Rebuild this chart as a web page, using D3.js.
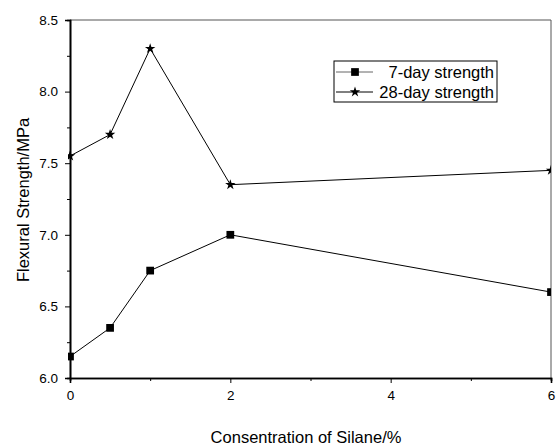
<!DOCTYPE html>
<html><head><meta charset="utf-8">
<script src="https://cdn.jsdelivr.net/npm/d3@7"></script>
<style>body{margin:0;background:#fff}svg{display:block}text{font-family:"Liberation Sans",Arial,sans-serif;fill:#000}</style>
</head><body>
<svg id="c" width="557" height="446"></svg>
<script>
const concentration = [0, 0.5, 1, 2, 6];
const strength7 = [6.15, 6.35, 6.75, 7.0, 6.6];
const strength28 = [7.55, 7.7, 8.3, 7.35, 7.45];
const seriesNames = ["7-day strength", "28-day strength"];
const xTicks = [0, 2, 4, 6];
const yTicks = [6.0, 6.5, 7.0, 7.5, 8.0, 8.5];

const svg = d3.select("#c");
const L = 70, R = 551, T = 20, B = 378;
const x = d3.scaleLinear().domain([0, 6]).range([L, R]);
const y = d3.scaleLinear().domain([6.0, 8.5]).range([B, T]);

svg.append("defs").append("clipPath").attr("id", "clip")
  .append("rect").attr("x", L - 2).attr("y", T - 6).attr("width", R - L + 2).attr("height", B - T + 12);

// frame top/right
svg.append("line").attr("x1", L).attr("x2", R).attr("y1", T).attr("y2", T).attr("stroke", "#555").attr("stroke-width", 1);
svg.append("line").attr("x1", R).attr("x2", R).attr("y1", T).attr("y2", B).attr("stroke", "#555").attr("stroke-width", 1);

// axes
const xAxis = svg.append("g").attr("transform", `translate(0,${B})`)
  .call(d3.axisBottom(x).tickValues(xTicks).tickFormat(d3.format("d")).tickSize(5).tickPadding(7));
const xMinor = svg.append("g").attr("transform", `translate(0,${B})`)
  .call(d3.axisBottom(x).tickValues([1, 3, 5]).tickFormat("").tickSize(3));
const yAxis = svg.append("g").attr("transform", `translate(${L},0)`)
  .call(d3.axisLeft(y).tickValues(yTicks).tickFormat(d3.format(".1f")).tickSize(5).tickPadding(7));
const yMinor = svg.append("g").attr("transform", `translate(${L},0)`)
  .call(d3.axisLeft(y).tickValues([6.25, 6.75, 7.25, 7.75, 8.25]).tickFormat("").tickSize(3));
[xAxis, xMinor, yAxis, yMinor].forEach(g => {
  g.select(".domain").attr("stroke", "#000").attr("stroke-width", 1.6);
  g.selectAll(".tick line").attr("stroke", "#000").attr("stroke-width", 1);
  g.selectAll("text").attr("font-size", 13.5).attr("font-family", "Liberation Sans, Arial, sans-serif");
});

const plot = svg.append("g").attr("clip-path", "url(#clip)");
const line = d3.line().x(d => x(d[0])).y(d => y(d[1]));
const d7 = concentration.map((c, i) => [c, strength7[i]]);
const d28 = concentration.map((c, i) => [c, strength28[i]]);
[d7, d28].forEach(d => plot.append("path").datum(d).attr("d", line).attr("fill", "none").attr("stroke", "#000").attr("stroke-width", 1));

const sq = d3.symbol().type(d3.symbolSquare).size(60);
const st = d3.symbol().type(d3.symbolStar).size(34);
plot.selectAll(".sq").data(d7).join("path").attr("d", sq)
  .attr("transform", d => `translate(${x(d[0])},${y(d[1])})`).attr("fill", "#000");
plot.selectAll(".st").data(d28).join("path").attr("d", st)
  .attr("transform", d => `translate(${x(d[0])},${y(d[1])})`).attr("fill", "#000");

// legend
const lg = svg.append("g");
lg.append("rect").attr("x", 334).attr("y", 61).attr("width", 163).attr("height", 41)
  .attr("fill", "#fff").attr("stroke", "#000").attr("stroke-width", 1);
const rows = [72, 92];
[sq, st].forEach((sym, i) => {
  lg.append("line").attr("x1", 336).attr("x2", 373).attr("y1", rows[i]).attr("y2", rows[i]).attr("stroke", i ? "#000" : "#666");
  lg.append("path").attr("d", sym).attr("transform", `translate(355,${rows[i]})`).attr("fill", "#000");
  lg.append("text").attr("x", 494).attr("y", rows[i]).attr("dy", "0.35em").attr("text-anchor", "end")
    .attr("font-size", 16.5).text(seriesNames[i]);
});

// titles
svg.append("text").attr("x", 306).attr("y", 443).attr("text-anchor", "middle").attr("font-size", 16.5)
  .text("Consentration of Silane/%");
svg.append("text").attr("transform", `translate(29,${(T + B) / 2 + 1}) rotate(-90)`).attr("text-anchor", "middle")
  .attr("font-size", 16.5).text("Flexural Strength/MPa");
</script>
</body></html>
